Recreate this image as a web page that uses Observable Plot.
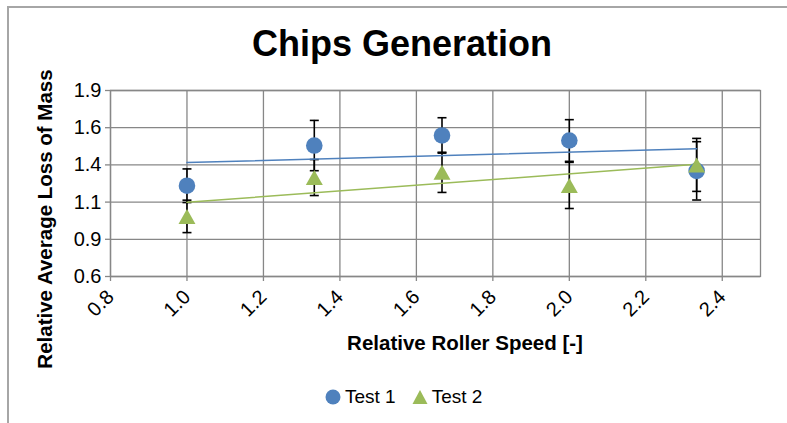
<!DOCTYPE html>
<html>
<head>
<meta charset="utf-8">
<script src="https://cdn.jsdelivr.net/npm/d3@7"></script>
<script src="https://cdn.jsdelivr.net/npm/@observablehq/plot@0.6"></script>
<style>
  html, body { margin: 0; padding: 0; background: #fff; }
  #wrap { position: relative; width: 787px; height: 423px; overflow: hidden; font-family: "Liberation Sans", Arial, sans-serif; }
  #frame { position: absolute; left: 7px; top: 6px; width: 900px; height: 500px; border-left: 2px solid #a6a6a6; border-top: 2px solid #a6a6a6; box-sizing: border-box; }
  #chart { position: absolute; left: 0; top: 0; }
  .title { position: absolute; left: 0; width: 804px; top: 22px; text-align: center; font-weight: bold; font-size: 36px; line-height: 44px; }
  .xlabel { position: absolute; left: 265px; width: 400px; top: 331px; text-align: center; font-weight: bold; font-size: 20.5px; line-height: 24px; }
  .ylabel { position: absolute; left: 45px; top: 219px; width: 400px; margin-left: -200px; margin-top: -12px; text-align: center; font-weight: bold; font-size: 20.5px; line-height: 24px; transform: rotate(-90deg); }
  .legend { position: absolute; top: 385px; left: 323px; font-size: 19px; line-height: 24px; display: flex; align-items: center; }
  .legend span { margin-right: 14px; }
</style>
</head>
<body>
<div id="wrap">
  <div id="frame"></div>
  <div id="chart"></div>
  <div class="title">Chips Generation</div>
  <div class="xlabel">Relative Roller Speed [-]</div>
  <div class="ylabel">Relative Average Loss of Mass</div>
  <div class="legend" id="legend"></div>
</div>
<script>
const speeds = [1.0, 1.333, 1.667, 2.0, 2.333];
const test1 = [1.21, 1.48, 1.548, 1.514, 1.31];
const err1 = [0.113, 0.169, 0.119, 0.14, 0.196];
const test2 = [1.004, 1.265, 1.30, 1.212, 1.35];
const err2 = [0.109, 0.121, 0.135, 0.155, 0.178];
const seriesNames = ["Test 1", "Test 2"];
const seriesColors = ["#4F81BD", "#9BBB59"];
const xTicks = [0.8, 1.0, 1.2, 1.4, 1.6, 1.8, 2.0, 2.2, 2.4];
const xTickLabels = ["0.8", "1.0", "1.2", "1.4", "1.6", "1.8", "2.0", "2.2", "2.4"];
const yTicks = [0.6, 0.85, 1.1, 1.35, 1.6, 1.85];
const yTickLabels = ["0.6", "0.9", "1.1", "1.4", "1.6", "1.9"];

const rows1 = speeds.map((x, i) => ({x, y: test1[i], lo: test1[i] - err1[i], hi: test1[i] + err1[i]}));
const rows2 = speeds.map((x, i) => ({x, y: test2[i], lo: test2[i] - err2[i], hi: test2[i] + err2[i]}));

const capSymbol = { draw(ctx) { ctx.moveTo(-4.5, 0); ctx.lineTo(4.5, 0); } };
const circleSymbol = { draw(ctx) { ctx.moveTo(8.3, 0); ctx.arc(0, 0, 8.3, 0, 2 * Math.PI); ctx.closePath(); } };
const triSymbol = { draw(ctx) { ctx.moveTo(0, -7.5); ctx.lineTo(8.5, 7.5); ctx.lineTo(-8.5, 7.5); ctx.closePath(); } };

function errMarks(rows) {
  return [
    Plot.ruleX(rows, {x: "x", y1: "lo", y2: "hi", stroke: "black", strokeWidth: 1.6}),
    Plot.dot(rows, {x: "x", y: "lo", symbol: capSymbol, stroke: "black", strokeWidth: 1.6, fill: "none"}),
    Plot.dot(rows, {x: "x", y: "hi", symbol: capSymbol, stroke: "black", strokeWidth: 1.6, fill: "none"})
  ];
}

const gridColor = "#878787";
const chart = Plot.plot({
  width: 787,
  height: 423,
  marginLeft: 110,
  marginRight: 27,
  marginTop: 90,
  marginBottom: 147,
  style: { fontFamily: "'Liberation Sans', Arial, sans-serif", fontSize: "20px", color: "black", background: "transparent", overflow: "visible" },
  x: { domain: [0.8, 2.5] },
  y: { domain: [0.6, 1.85] },
  marks: [
    Plot.gridX(xTicks, { stroke: gridColor, strokeOpacity: 1, strokeWidth: 1.3 }),
    Plot.gridY(yTicks, { stroke: gridColor, strokeOpacity: 1, strokeWidth: 1.3 }),
    Plot.frame({ stroke: gridColor, strokeWidth: 1.3 }),
    Plot.axisX({ ticks: xTicks, tickFormat: (d, i) => xTickLabels[i], tickRotate: -45, tickSize: 5, tickPadding: 12, stroke: gridColor, strokeWidth: 1.3, label: null }),
    Plot.axisY({ ticks: yTicks, tickFormat: (d, i) => yTickLabels[i], tickSize: 5, tickPadding: 4, stroke: gridColor, strokeWidth: 1.3, label: null }),
    ...errMarks(rows1),
    ...errMarks(rows2),
    Plot.linearRegressionY(rows1, { x: "x", y: "y", ci: 0, stroke: seriesColors[0], strokeWidth: 1.5 }),
    Plot.linearRegressionY(rows2, { x: "x", y: "y", ci: 0, stroke: seriesColors[1], strokeWidth: 1.5 }),
    Plot.dot(rows1, { x: "x", y: "y", symbol: circleSymbol, fill: seriesColors[0], stroke: "none" }),
    Plot.dot(rows2, { x: "x", y: "y", symbol: triSymbol, fill: seriesColors[1], stroke: "none" })
  ]
});
document.getElementById("chart").appendChild(chart);

const legend = document.getElementById("legend");
const legendSyms = [
  '<svg width="20" height="20" style="margin-right:2px"><circle cx="10" cy="10" r="7.5" fill="' + seriesColors[0] + '"/></svg>',
  '<svg width="20" height="20" style="margin-right:2px"><path d="M10,3L17.5,17H2.5Z" fill="' + seriesColors[1] + '"/></svg>'
];
seriesNames.forEach((n, i) => {
  legend.insertAdjacentHTML("beforeend", legendSyms[i] + '<span>' + n + '</span>');
});
</script>
</body>
</html>
